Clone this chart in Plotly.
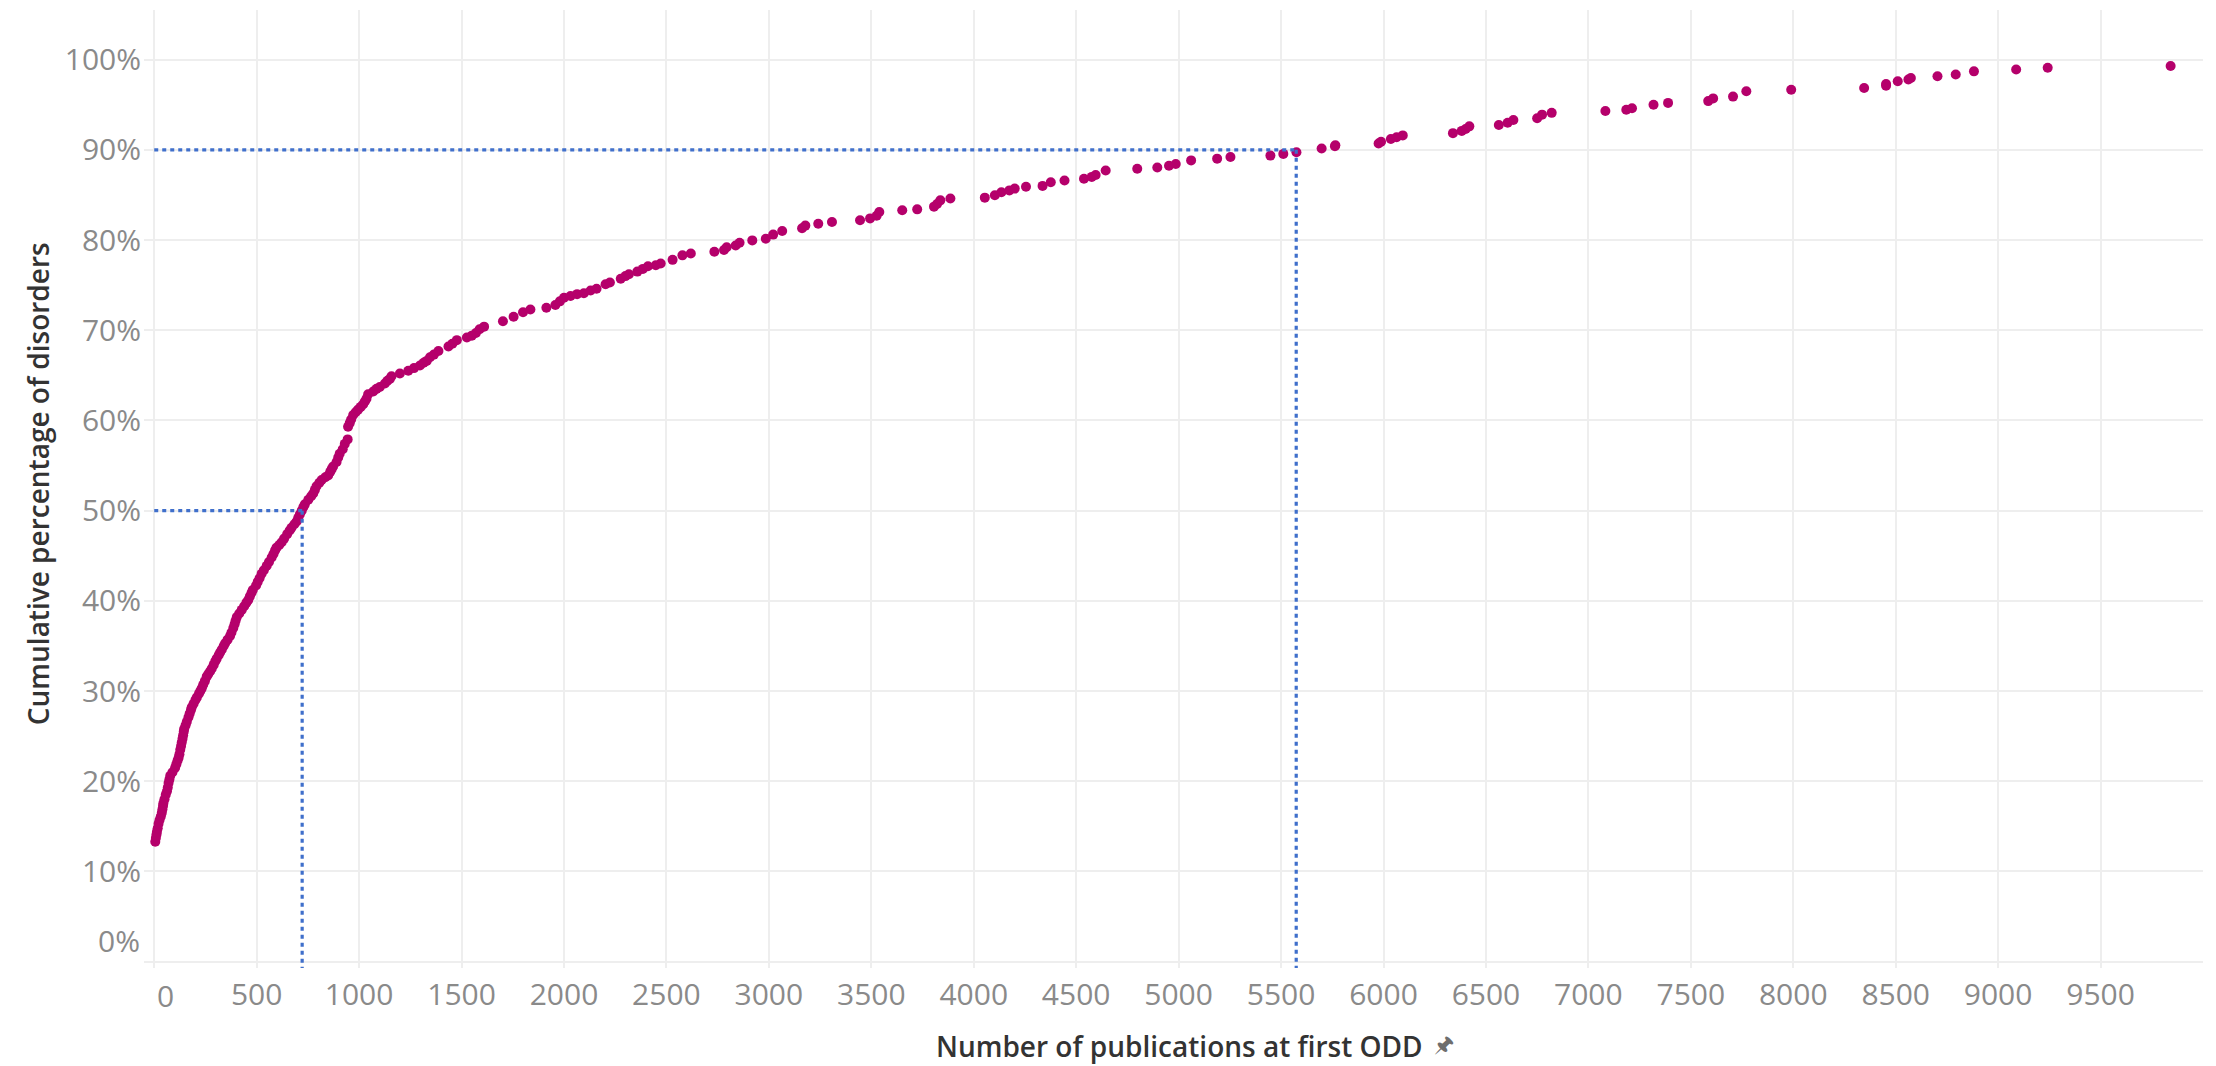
import plotly.graph_objects as go

# Number of publications at first ODD (x) and cumulative % of disorders (y)
pub_counts = [
    5, 8, 11, 13, 17, 21, 26, 32, 37, 40, 43, 45, 50, 56, 62, 66, 70, 74, 78, 89,
    102, 108, 114, 119, 123, 127, 131, 134, 138, 141, 144, 146, 153, 159, 167, 173, 179, 183, 192, 201,
    208, 218, 225, 232, 239, 247, 256, 264, 273, 281, 290, 298, 305, 315, 322, 330, 339, 346, 358, 370,
    377, 386, 392, 397, 403, 415, 427, 439, 450, 459, 467, 475, 481, 497, 505, 514, 524, 535, 549, 560,
    573, 582, 590, 597, 610, 622, 634, 649, 661, 670, 684, 695, 703, 711, 720, 728, 735, 752, 766, 776,
    784, 792, 806, 817, 835, 849, 859, 866, 873, 890, 898, 905, 920, 930, 944,
    946, 954, 961, 971, 983, 995, 1008, 1020, 1028, 1036, 1044, 1069, 1085, 1101, 1126, 1138, 1150, 1158,
    1199, 1240, 1268, 1297, 1315, 1330, 1346, 1365, 1387, 1436, 1455, 1477, 1526, 1550, 1570, 1588, 1610,
    1702, 1754, 1800, 1836, 1914, 1958, 1980, 2000, 2032, 2064, 2097, 2130, 2159, 2203, 2224, 2277, 2300,
    2317, 2358, 2385, 2410, 2448, 2472, 2530, 2578, 2619, 2734,
    2781, 2794, 2838, 2857, 2919, 2985, 3021, 3065, 3162, 3178, 3241, 3308, 3445, 3494, 3526, 3539, 3651,
    3724, 3806, 3821, 3837, 3886, 4054, 4103, 4135, 4174, 4200, 4255, 4336, 4376, 4443, 4538, 4576, 4595,
    4644, 4798,
    4896, 4953, 4986, 5061, 5188, 5253, 5448, 5511, 5575, 5698, 5763, 5765, 5976, 5988, 6036, 6064, 6094,
    6339, 6382, 6401, 6419, 6563, 6606, 6634, 6750, 6774, 6821, 7083, 7185, 7213, 7318, 7389,
    7585, 7609, 7706, 7771, 7990, 8346, 8453, 8453, 8510, 8562, 8574, 8704, 8793, 8882, 9088, 9242, 9842,
]
cum_pct = [
    13.3, 13.7, 14.1, 14.4, 14.8, 15.3, 15.7, 16.1, 16.5, 16.9, 17.3, 17.6, 18.0, 18.5, 18.9, 19.3, 19.8, 20.2, 20.6, 21.0,
    21.5, 21.9, 22.3, 22.6, 23.0, 23.5, 23.9, 24.3, 24.7, 25.1, 25.5, 25.8, 26.2, 26.6, 27.1, 27.5, 27.9, 28.2, 28.6, 29.0,
    29.3, 29.7, 30.0, 30.3, 30.7, 31.1, 31.6, 31.9, 32.2, 32.5, 32.9, 33.3, 33.6, 34.0, 34.3, 34.6, 35.0, 35.3, 35.7, 36.1,
    36.5, 37.0, 37.4, 37.8, 38.2, 38.6, 39.0, 39.4, 39.8, 40.1, 40.5, 40.9, 41.2, 41.7, 42.1, 42.5, 43.0, 43.4, 43.9, 44.3,
    44.8, 45.2, 45.6, 45.9, 46.2, 46.5, 46.9, 47.4, 47.8, 48.1, 48.5, 48.8, 49.2, 49.6, 50.0, 50.4, 50.7, 51.2, 51.6, 51.9,
    52.3, 52.7, 53.1, 53.4, 53.7, 53.9, 54.3, 54.6, 54.9, 55.4, 55.9, 56.3, 56.8, 57.4, 57.9,
    59.3, 59.7, 60.1, 60.6, 60.9, 61.2, 61.5, 61.8, 62.1, 62.4, 62.9, 63.2, 63.5, 63.7, 64.1, 64.4, 64.6, 64.9,
    65.2, 65.5, 65.8, 66.1, 66.4, 66.6, 67.0, 67.3, 67.7, 68.2, 68.5, 68.9, 69.2, 69.4, 69.7, 70.1, 70.4,
    71.0, 71.5, 72.0, 72.3, 72.5, 72.8, 73.2, 73.6, 73.8, 74.0, 74.1, 74.4, 74.6, 75.1, 75.3, 75.7, 76.0,
    76.2, 76.5, 76.8, 77.1, 77.2, 77.4, 77.8, 78.3, 78.5, 78.7,
    78.9, 79.2, 79.4, 79.7, 79.96, 80.15, 80.6, 81.0, 81.3, 81.6, 81.8, 82.0, 82.2, 82.4, 82.7, 83.1, 83.3,
    83.4, 83.7, 84.0, 84.4, 84.6, 84.7, 84.96, 85.3, 85.5, 85.7, 85.9, 86.0, 86.4, 86.6, 86.8, 87.0, 87.2,
    87.7, 87.9,
    88.04, 88.23, 88.42, 88.83, 89.02, 89.2, 89.36, 89.55, 89.74, 90.15, 90.4, 90.5, 90.7, 90.9, 91.2, 91.4, 91.6,
    91.85, 92.1, 92.3, 92.6, 92.75, 93.0, 93.3, 93.5, 93.9, 94.1, 94.3, 94.45, 94.6, 95.0, 95.2,
    95.4, 95.7, 95.9, 96.5, 96.65, 96.85, 97.1, 97.3, 97.6, 97.8, 97.97, 98.16, 98.35, 98.7, 98.9, 99.1, 99.3,
]

# Reference drop lines (median and 90th percentile)
ref_pct = [50, 90]
ref_pubs = [722, 5574]

x_ticks = [0, 500, 1000, 1500, 2000, 2500, 3000, 3500, 4000, 4500, 5000,
           5500, 6000, 6500, 7000, 7500, 8000, 8500, 9000, 9500]
y_ticks = [0, 10, 20, 30, 40, 50, 60, 70, 80, 90, 100]

POINT = "#b5006b"
REF = "#3f6fcb"
TICK = "#8a8a8a"
TITLE = "#333333"
FONT = "'Open Sans', Lato, sans-serif"

fig = go.Figure()
fig.add_trace(go.Scatter(
    x=pub_counts, y=cum_pct, mode="markers",
    marker=dict(size=10, color=POINT, line=dict(width=0)),
    hoverinfo="x+y", showlegend=False,
))

shapes = []
for p, v in zip(ref_pct, ref_pubs):
    shapes.append(dict(type="line", xref="x", yref="y", x0=0, x1=v, y0=p, y1=p,
                       line=dict(color=REF, width=3.2, dash="4px,4px"), layer="above"))
    shapes.append(dict(type="line", xref="x", yref="y", x0=v, x1=v, y0=p, y1=-0.7,
                       line=dict(color=REF, width=3.2, dash="4px,4px"), layer="above"))

annotations = [
    dict(text="Number of publications at first ODD", xref="paper", yref="paper",
         x=0.503, y=0, yshift=-78, showarrow=False, xanchor="center", yanchor="middle",
         font=dict(family=FONT, size=28, color=TITLE, weight=600)),
    dict(text="🖈", xref="paper", yref="paper",
         x=0.503, y=0, xshift=264, yshift=-76, showarrow=False, xanchor="center", yanchor="middle",
         font=dict(family="DejaVu Sans, Noto Sans, sans-serif", size=22, color="#6e6e6e")),
    dict(text="Cumulative percentage of disorders", xref="paper", yref="paper",
         x=0, y=0.505, xshift=-106, textangle=-90, showarrow=False,
         xanchor="center", yanchor="middle",
         font=dict(family=FONT, size=28, color=TITLE, weight=600)),
    dict(text="0%", xref="paper", yref="y", x=0, y=2.4, xshift=-2, showarrow=False,
         xanchor="right", yanchor="middle", font=dict(family=FONT, size=30, color=TICK)),
    dict(text="0", xref="x", yref="paper", x=55, y=0, yshift=-27, showarrow=False,
         xanchor="center", yanchor="middle", font=dict(family=FONT, size=30, color=TICK)),
]

# page body has an 8px margin: the figure is shrunk by 8px and its margins shifted
fig.update_layout(
    width=2208, height=1058,
    margin=dict(l=136, r=13, t=2, b=98),
    paper_bgcolor="white", plot_bgcolor="white",
    shapes=shapes, annotations=annotations,
    font=dict(family=FONT),
)
fig.update_xaxes(
    range=[-50, 10000], tickvals=x_ticks,
    ticktext=["" if t == 0 else str(t) for t in x_ticks],
    showgrid=True, gridcolor="#eeeeee", gridwidth=1.5, zeroline=False,
    showline=False, ticks="", ticklabelstandoff=6,
    tickfont=dict(family=FONT, size=30, color=TICK),
)
fig.update_yaxes(
    range=[-0.7, 105.5], tickvals=y_ticks,
    ticktext=["" if t == 0 else f"{t}%" for t in y_ticks],
    showgrid=True, gridcolor="#eeeeee", gridwidth=1.5, zeroline=False,
    showline=False, ticks="", ticklabelstandoff=2,
    tickfont=dict(family=FONT, size=30, color=TICK),
)

fig.write_html("out.html")
